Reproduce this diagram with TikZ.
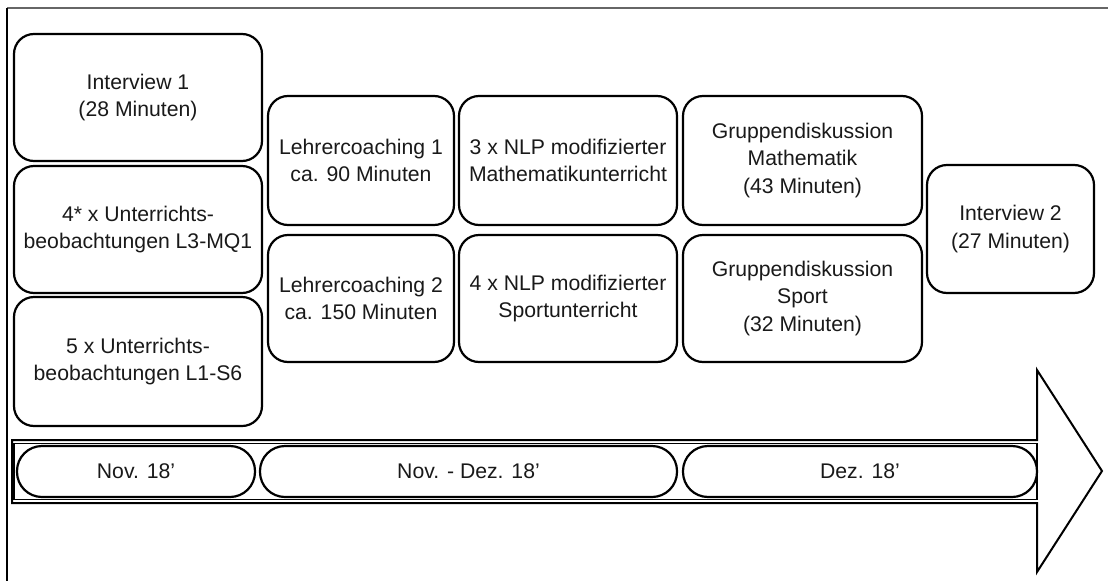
\documentclass[tikz,border=0pt]{standalone}
\usepackage{fontspec}
\setmainfont{Liberation Sans}
\begin{document}
\begin{tikzpicture}[x=1pt,y=-1pt,
  box/.style={draw=black,line width=2.2pt,rounded corners=20pt,align=center,inner sep=0pt,
    font=\fontsize{21.2}{27.5}\selectfont,text=black!90},
  pill/.style={draw=black,line width=2.2pt,rounded corners=25pt,inner sep=0pt,
    font=\fontsize{21.2}{27.5}\selectfont,text=black!90,minimum height=51pt}]
\useasboundingbox (0,0) rectangle (1108,581);
% frame
\draw[black!60,line width=1.3pt] (7,8) -- (1108,8);
\draw[black,line width=1.2pt] (7,8) -- (7,581);
% left column
\node[box,minimum width=248pt,minimum height=127pt] (i1) at (138,97.5) {Interview 1\\(28 Minuten)};
\node[box,minimum width=248pt,minimum height=127pt] (u1) at (138,229.5) {4* x Unterrichts-\\beobachtungen L3-MQ1};
\node[box,minimum width=248pt,minimum height=129pt] (u2) at (138,361.5) {5 x Unterrichts-\\beobachtungen L1-S6};
% coaching
\node[box,minimum width=186pt,minimum height=129pt] (lc1) at (361,160.5) {Lehrercoaching 1\\ca. 90 Minuten};
\node[box,minimum width=186pt,minimum height=127pt] (lc2) at (361,298.5) {Lehrercoaching 2\\ca. 150 Minuten};
% NLP
\node[box,minimum width=218pt,minimum height=129pt] (n1) at (568,160.5) {3 x NLP modifizierter\\Mathematikunterricht};
\node[box,minimum width=218pt,minimum height=127pt] (n2) at (568,298.5) {4 x NLP modifizierter\\Sportunterricht};
% Gruppendiskussion
\node[box,minimum width=239pt,minimum height=129pt] (g1) at (802.5,160.5) {Gruppendiskussion\\Mathematik\\(43 Minuten)};
\node[box,minimum width=239pt,minimum height=127pt] (g2) at (802.5,298.5) {Gruppendiskussion\\Sport\\(32 Minuten)};
% Interview 2
\node[box,minimum width=167pt,minimum height=128pt] (i2) at (1010.5,229) {Interview 2\\(27 Minuten)};
% arrow
\coordinate (a1) at (12,440);
\coordinate (a2) at (1037,440);
\coordinate (a3) at (1037,370);
\coordinate (a4) at (1102,471);
\coordinate (a5) at (1037,572);
\coordinate (a6) at (1037,503);
\coordinate (a7) at (12,503);
\draw[line width=2pt,line join=miter] (a1) -- (a2) -- (a3) -- (a4) -- (a5) -- (a6) -- (a7) -- cycle;
\draw[line width=1.8pt] (14,443.5) rectangle (1037,499.5);
% pills
\node[pill,minimum width=238pt] (p1) at (136,471.5) {Nov. 18’};
\node[pill,minimum width=417pt] (p2) at (468.5,471.5) {Nov. - Dez. 18’};
\node[pill,minimum width=354pt] (p3) at (860,471.5) {Dez. 18’};
\end{tikzpicture}
\end{document}
